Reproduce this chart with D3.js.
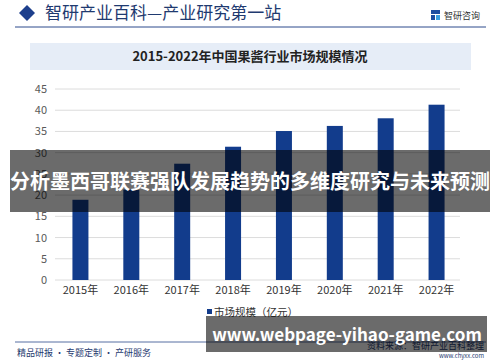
<!DOCTYPE html>
<html>
<head>
<meta charset="utf-8">
<script src="https://cdn.jsdelivr.net/npm/d3@7"></script>
<style>
  body { margin: 0; background: #fff; }
  svg text { font-family: "Noto Sans CJK SC", "Noto Sans", sans-serif; }
</style>
</head>
<body>
<div id="chart"></div>
<script>
// chart data
const years = ["2015年", "2016年", "2017年", "2018年", "2019年", "2020年", "2021年", "2022年"];
const marketSize = [18.9, 21.3, 27.4, 31.4, 35.1, 36.3, 38.1, 41.3];
const yTicks = [0, 5, 10, 15, 20, 25, 30, 35, 40, 45];

const W = 500, H = 362;
const svg = d3.select("#chart").append("svg")
    .attr("width", W)
    .attr("height", H);

// header
svg.append("path")
    .attr("d", "M27,5 L35,13 L27,21 L19,13 Z")
    .attr("fill", "#1d3f8c");
svg.append("text")
    .attr("x", 45).attr("y", 19)
    .attr("font-size", 17)
    .attr("fill", "#1f3a70")
    .text("智研产业百科—产业研究第一站");
svg.append("line")
    .attr("x1", 15).attr("x2", 486)
    .attr("y1", 27).attr("y2", 27)
    .attr("stroke", "#2c4a8c").attr("stroke-width", 1);

// logo
const logo = svg.append("g").attr("transform", "translate(431,10)");
logo.append("rect").attr("x", 0).attr("y", 0).attr("width", 9).attr("height", 4).attr("fill", "#1d4ea0");
logo.append("rect").attr("x", 0).attr("y", 5).attr("width", 4).attr("height", 5).attr("fill", "#1d4ea0");
logo.append("rect").attr("x", 5).attr("y", 5).attr("width", 4).attr("height", 5).attr("fill", "#3aa0e0");
svg.append("text")
    .attr("x", 444).attr("y", 19)
    .attr("font-size", 9)
    .attr("fill", "#333")
    .text("智研咨询");

// title box
svg.append("rect")
    .attr("x", 30).attr("y", 43)
    .attr("width", 441).attr("height", 27)
    .attr("fill", "#e6edf7");
svg.append("text")
    .attr("x", 250).attr("y", 61)
    .attr("text-anchor", "middle")
    .attr("font-size", 13)
    .attr("font-weight", "bold")
    .attr("fill", "#222")
    .text("2015-2022年中国果酱行业市场规模情况");

// scales
const x = d3.scaleBand()
    .domain(years)
    .range([55, 462]);

const y = d3.scaleLinear()
    .domain([0, 45])
    .range([280, 89]);

// gridlines
svg.selectAll(".grid")
    .data(yTicks)
    .enter()
    .append("line")
    .attr("class", "grid")
    .attr("x1", 55).attr("x2", 460)
    .attr("y1", (d) => y(d)).attr("y2", (d) => y(d))
    .attr("stroke", "#dcdcdc");

// y axis labels
const yAxis = d3.axisLeft(y).tickValues(yTicks).tickSize(0).tickPadding(0);
const yg = svg.append("g").attr("transform", "translate(47,0)").call(yAxis);
yg.select(".domain").remove();
yg.selectAll("text")
    .attr("font-size", 11)
    .attr("fill", "#595959")
    .attr("font-family", "Roboto, sans-serif");

// bars
const barW = 16;
svg.selectAll(".bar")
    .data(marketSize)
    .enter()
    .append("rect")
    .attr("class", "bar")
    .attr("x", (d, i) => x(years[i]) + (x.bandwidth() - barW) / 2)
    .attr("y", (d) => y(d))
    .attr("width", barW)
    .attr("height", (d) => y(0) - y(d))
    .attr("fill", "#123c8c");

// x axis labels
const xAxis = d3.axisBottom(x).tickSize(0).tickPadding(0);
const xg = svg.append("g").attr("transform", "translate(0,286)").call(xAxis);
xg.select(".domain").remove();
xg.selectAll("text")
    .attr("font-size", 11)
    .attr("fill", "#333");

// legend
svg.append("rect")
    .attr("x", 207).attr("y", 309)
    .attr("width", 5).attr("height", 5)
    .attr("fill", "#123c8c");
svg.append("text")
    .attr("x", 214).attr("y", 316)
    .attr("font-size", 10.5)
    .attr("fill", "#333")
    .text("市场规模（亿元）");

// footer
svg.append("line")
    .attr("x1", 15).attr("x2", 486)
    .attr("y1", 342).attr("y2", 342)
    .attr("stroke", "#2c4a8c").attr("stroke-width", 0.8);
svg.append("text")
    .attr("x", 17).attr("y", 356)
    .attr("font-size", 9)
    .attr("fill", "#1f3a70")
    .text("精品研报 · 专题定制 · 产研服务");
svg.append("text")
    .attr("x", 484).attr("y", 349)
    .attr("text-anchor", "end")
    .attr("font-size", 9)
    .attr("fill", "#1f3a70")
    .text("资料来源：智研产业百科整理");
svg.append("text")
    .attr("x", 484).attr("y", 358)
    .attr("text-anchor", "end")
    .attr("font-size", 6)
    .attr("fill", "#1f3a70")
    .text("www.chyxx.com");

// overlay banners
svg.append("rect")
    .attr("x", 10).attr("y", 150)
    .attr("width", 480).attr("height", 62)
    .attr("fill", "rgba(0,0,0,0.58)");
svg.append("text")
    .attr("x", 250).attr("y", 189)
    .attr("text-anchor", "middle")
    .attr("font-size", 20)
    .attr("font-weight", "bold")
    .attr("fill", "#fff")
    .text("分析墨西哥联赛强队发展趋势的多维度研究与未来预测");

svg.append("rect")
    .attr("x", 206).attr("y", 316)
    .attr("width", 281).attr("height", 36)
    .attr("fill", "rgba(0,0,0,0.58)");
svg.append("text")
    .attr("x", 347).attr("y", 341)
    .attr("text-anchor", "middle")
    .attr("font-size", 17)
    .attr("font-weight", "bold")
    .attr("font-family", "'Open Sans', 'DejaVu Sans', sans-serif")
    .attr("fill", "#fff")
    .text("www.webpage-yihao-game.com");
</script>
</body>
</html>
